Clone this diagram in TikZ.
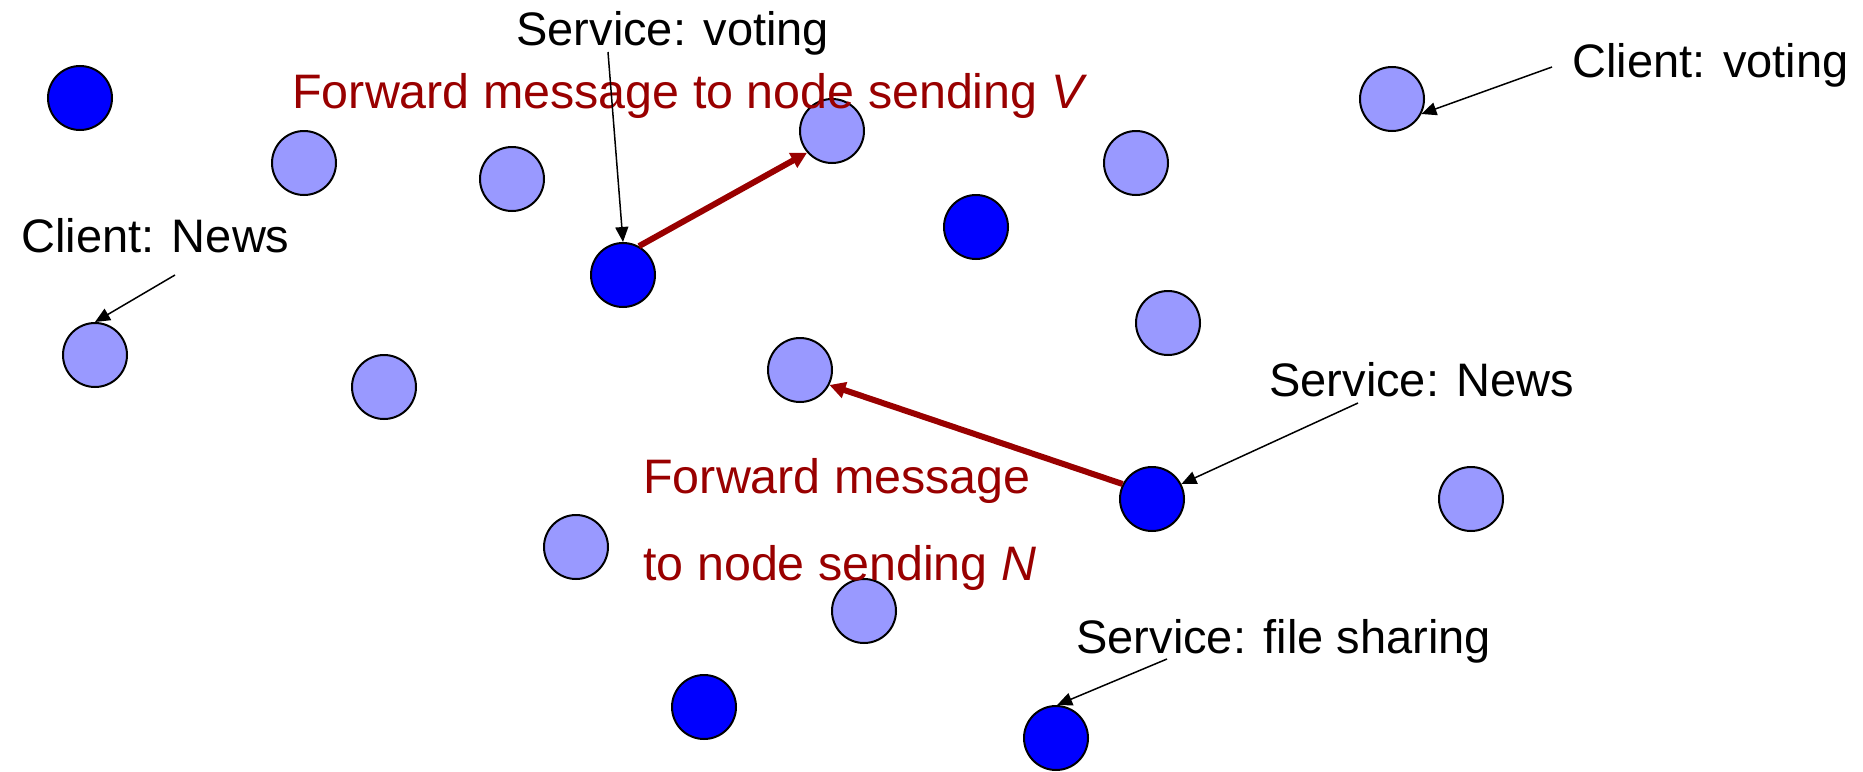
\documentclass[tikz,border=0pt]{standalone}
\usepackage{fontspec}
\setmainfont{Liberation Sans}
\usetikzlibrary{arrows.meta}
\definecolor{peerdark}{HTML}{0000FF}
\definecolor{peerlight}{HTML}{9999FF}
\definecolor{fwdred}{HTML}{990000}
\begin{document}
\begin{tikzpicture}[x=0.5pt,y=-0.5pt,
  peer/.style={circle,draw=black,line width=1pt,minimum size=32pt,inner sep=0pt},
  server/.style={peer,fill=peerdark},
  client/.style={peer,fill=peerlight},
  txt/.style={inner sep=0pt,anchor=base west,font=\fontsize{23.5}{28}\selectfont},
  fwdtxt/.style={txt,text=fwdred,font=\fontsize{24.2}{28}\selectfont},
  note/.style={draw=black,line width=0.75pt,-{Triangle[length=7.5pt,width=6.5pt]}},
  fwd/.style={draw=fwdred,line width=3pt,-{Triangle[length=8pt,width=8pt]}}]
\useasboundingbox (0,0) rectangle (1863,771);

% service nodes
\node[server] (s1) at (80,98) {};
\node[server] (sv) at (623,275) {};
\node[server] (s3) at (976,227) {};
\node[server] (sn) at (1152,499) {};
\node[server] (s5) at (704,707) {};
\node[server] (sf) at (1056,738) {};

% client nodes
\node[client] (c1) at (304,163) {};
\node[client] (c2) at (512,179) {};
\node[client] (tv) at (832,131) {};
\node[client] (c4) at (1136,163) {};
\node[client] (cv) at (1392,99) {};
\node[client] (cn) at (95,355) {};
\node[client] (c7) at (384,387) {};
\node[client] (tn) at (800,370) {};
\node[client] (c9) at (1168,323) {};
\node[client] (c10) at (1471,499) {};
\node[client] (c11) at (576,547) {};
\node[client] (c12) at (864,611) {};

% labels
\node[txt] (lsv) at (516,45) {Service: voting};
\node[txt] (lcn) at (21,252) {Client: News};
\node[txt] (lcv) at (1572,77) {Client: voting};
\node[txt] (lsn) at (1269,396) {Service: News};
\node[txt] (lsf) at (1076,653) {Service: file sharing};
\node[fwdtxt] (fv) at (292,108) {Forward message to node sending \textit{V}};
\node[fwdtxt] (fn1) at (643,493) {Forward message};
\node[fwdtxt] (fn2) at (643,580) {to node sending \textit{N}};

% pointer tails
\coordinate (psv) at (608,52);
\coordinate (pcn) at (175,275);
\coordinate (pcv) at (1552,67);
\coordinate (psn) at (1358,403);
\coordinate (psf) at (1167,659);

% annotation pointers
\draw[note] (psv) -- (sv.north);
\draw[note] (pcn) -- (cn.north);
\draw[note] (pcv) -- (cv.-27);
\draw[note] (psn) -- (sn.27);
\draw[note] (psf) -- (sf.88);

% forwarded messages
\draw[fwd] (sv.61) -- (tv.221);
\draw[fwd] (sn.153) -- (tn.-27);
\end{tikzpicture}
\end{document}
